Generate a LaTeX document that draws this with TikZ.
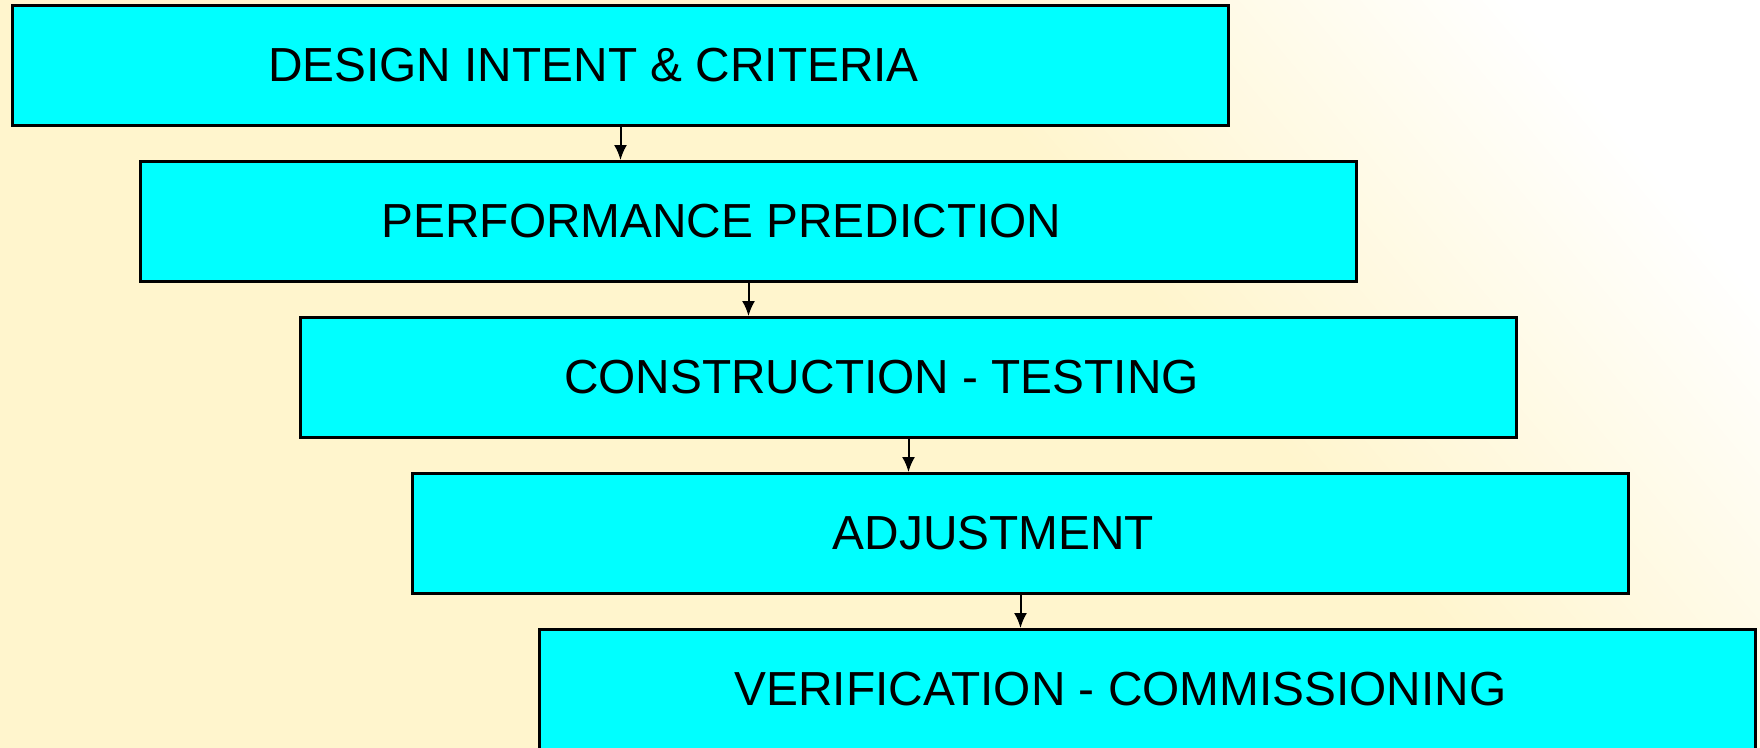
\documentclass[tikz,border=0pt]{standalone}
\usepackage{fontspec}
\setmainfont{Liberation Sans}
\usetikzlibrary{arrows.meta}
\definecolor{cream}{RGB}{255,245,205}
\definecolor{boxcyan}{RGB}{0,255,255}
\pgfdeclarehorizontalshading{bgshade}{100bp}{color(0bp)=(cream); color(60bp)=(cream); color(78bp)=(white); color(100bp)=(white)}
\tikzset{
  stepbox/.style={draw=black, line width=3pt, fill=boxcyan, anchor=north west,
    minimum width=1216pt, minimum height=120pt, inner sep=0pt,
    font=\fontsize{47.8}{57}\selectfont, text=black},
  flowarrow/.style={draw=black, line width=2pt, -{Latex[length=15pt,width=13pt]}}
}
\begin{document}
\begin{tikzpicture}[x=1pt,y=-1pt]
\useasboundingbox (0,0) rectangle (1760,747);
\shade[shading=bgshade, shading angle=40] (0,0) rectangle (1760,747);
\node[stepbox] (b1) at (11,4) {DESIGN INTENT \& CRITERIA\hspace*{54pt}};
\node[stepbox] (b2) at (139,160) {PERFORMANCE PREDICTION\hspace*{54pt}};
\node[stepbox] (b3) at (299,316) {CONSTRUCTION - TESTING\hspace*{54pt}};
\node[stepbox] (b4) at (411,472) {ADJUSTMENT\hspace*{54pt}};
\node[stepbox] (b5) at (538,628) {VERIFICATION - COMMISSIONING\hspace*{54pt}};
\draw[flowarrow] (b1.south) -- (b1.south |- b2.north);
\draw[flowarrow] (b2.south) -- (b2.south |- b3.north);
\draw[flowarrow] (b3.south) -- (b3.south |- b4.north);
\draw[flowarrow] (b4.south) -- (b4.south |- b5.north);
\end{tikzpicture}
\end{document}
